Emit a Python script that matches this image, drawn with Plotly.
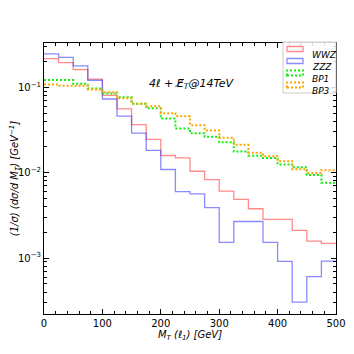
import plotly.graph_objects as go

# bin edges in GeV (25 GeV bins)
edges = [0, 25, 50, 75, 100, 125, 150, 175, 200, 225, 250,
         275, 300, 325, 350, 375, 400, 425, 450, 475, 500]

wwz = [0.217, 0.195, 0.161, 0.125, 0.0806, 0.0558, 0.0366, 0.0245, 0.0159, 0.0149,
       0.0104, 0.0083, 0.00608, 0.00486, 0.00378, 0.00284, 0.00284, 0.00211, 0.00158, 0.00149]
zzz = [0.246, 0.224, 0.178, 0.121, 0.073, 0.046, 0.029, 0.0183, 0.0109, 0.0060,
       0.00566, 0.00389, 0.00153, 0.00268, 0.00268, 0.00153, 0.000914, 0.000305, 0.000605, 0.000922]
bp1 = [0.122, 0.122, 0.110, 0.0966, 0.0844, 0.0764, 0.064, 0.0569, 0.043, 0.0329,
       0.029, 0.0263, 0.0227, 0.0177, 0.0158, 0.0149, 0.0125, 0.0116, 0.0094, 0.0076]
bp3 = [0.108, 0.104, 0.104, 0.094, 0.0875, 0.0745, 0.064, 0.060, 0.0497, 0.0458,
       0.036, 0.0312, 0.0256, 0.0212, 0.0171, 0.0156, 0.0136, 0.011, 0.0099, 0.0107]

series = [
    ("WWZ", wwz, "rgba(255,60,60,0.6)", 1.3, "solid"),
    ("ZZZ", zzz, "rgba(60,60,255,0.6)", 1.3, "solid"),
    ("BP1", bp1, "rgb(20,235,20)", 2, "2px,2px"),
    ("BP3", bp3, "rgb(255,165,0)", 2, "2px,2px"),
]

FONT = "DejaVu Sans"
fig = go.Figure()

for name, vals, col, w, dash in series:
    fig.add_trace(go.Scatter(
        x=edges, y=vals + [vals[-1]], mode="lines", line_shape="hv",
        line=dict(color=col, width=w, dash=dash), name=name, showlegend=False))

# hand made legend, matplotlib style patches (pixel positions in the window)
def px_x(x):
    return (x - 44) / 292

def px_y(y):
    return (314 - y) / 271

fig.add_shape(type="rect", xref="paper", yref="paper",
              x0=px_x(283), x1=px_x(336), y0=px_y(93), y1=px_y(42),
              line=dict(color="rgb(205,205,205)", width=1), fillcolor="rgba(255,255,255,0.85)")
for i, (name, vals, col, w, dash) in enumerate(series):
    yc = 49 + 12 * i
    fig.add_shape(type="rect", xref="paper", yref="paper",
                  x0=px_x(287), x1=px_x(303), y0=px_y(yc + 2.5), y1=px_y(yc - 2.5),
                  line=dict(color=col, width=w, dash=dash))
    fig.add_annotation(x=px_x(310), y=px_y(yc - 1), xref="paper", yref="paper",
                       text="<i>" + name + "</i>", showarrow=False, xanchor="left",
                       font=dict(family=FONT, size=9, color="black"))

fig.add_annotation(x=px_x(192), y=px_y(75), xref="paper", yref="paper",
                   text="<i>4ℓ + E̸<sub>T</sub>@14TeV</i>", showarrow=False,
                   font=dict(family=FONT, size=11, color="black"))

yminor = [m * 10 ** e for e in (-4, -3, -2, -1) for m in range(2, 10)]

# page has an 8px body margin, so the figure is a bit smaller than the window
fig.update_layout(
    width=346, height=346,
    margin=dict(l=36, r=18, t=35, b=40),
    paper_bgcolor="white", plot_bgcolor="white",
    font=dict(family=FONT, size=10, color="black"),
    xaxis=dict(range=[0, 500], tickvals=[0, 100, 200, 300, 400, 500], automargin=False,
               ticks="inside", ticklen=5, tickcolor="black", mirror="allticks",
               showline=True, linecolor="black", linewidth=1, showgrid=False, zeroline=False,
               minor=dict(tickvals=list(range(0, 501, 20)), ticks="inside", ticklen=3, tickcolor="black"),
               title=dict(text="<i>M<sub>T</sub> (ℓ<sub>1</sub>) [GeV]</i>", standoff=2,
                          font=dict(size=10)),
               tickfont=dict(size=10)),
    yaxis=dict(type="log", range=[-3.655, -0.481], automargin=False,
               tickvals=[1e-3, 1e-2, 1e-1],
               ticktext=["10<sup>−3</sup>", "10<sup>−2</sup>", "10<sup>−1</sup>"],
               ticks="inside", ticklen=5, tickcolor="black", mirror="allticks",
               showline=True, linecolor="black", linewidth=1, showgrid=False, zeroline=False,
               minor=dict(tickvals=yminor, ticks="inside", ticklen=3, tickcolor="black"),
               title=dict(text="<i>(1/σ) (dσ/d M<sub>T</sub>) [GeV<sup>−1</sup>]</i>", standoff=4,
                          font=dict(size=10)),
               tickfont=dict(size=10)),
)

fig.write_html("out.html")
